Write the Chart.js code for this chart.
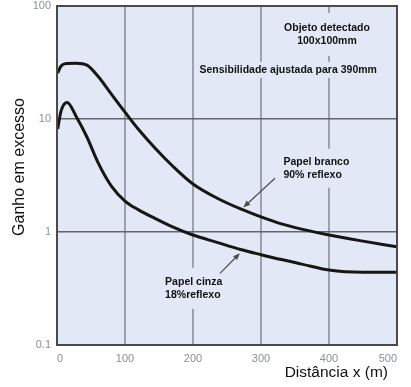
<!DOCTYPE html>
<html>
<head>
<meta charset="utf-8">
<title>Ganho em excesso x distância</title>
<script src="https://cdn.jsdelivr.net/npm/chart.js@4.4.1/dist/chart.umd.min.js"></script>
<style>
  html, body { margin: 0; padding: 0; background: #fff; }
  #wrap { width: 411px; height: 387px; }
</style>
</head>
<body>
<div id="wrap"><canvas id="grafico"></canvas></div>
<script>
// distância (m) e ganho em excesso de cada papel
const distancias  = [1, 6, 15, 28, 44, 60, 80, 100, 120, 144, 170, 200, 235, 270, 300, 330, 360, 400, 450, 500];
const papelBranco = [25.5, 29.5, 31, 31.2, 30, 24.0, 16.6, 11.5, 8.07, 5.54, 3.84, 2.66, 2.0, 1.6, 1.36, 1.18, 1.06, 0.94, 0.83, 0.74];
const papelCinza  = [8.16, 11.8, 14.0, 10.6, 6.93, 4.16, 2.55, 1.88, 1.57, 1.32, 1.11, 0.94, 0.81, 0.70, 0.63, 0.57, 0.52, 0.46, 0.44, 0.44];

const xTicks = [0, 100, 200, 300, 400, 500];
const yTicks = [0.1, 1, 10, 100];
const yTickLabels = ['0.1', '1', '10', '100'];

const tituloX = 'Distância x (m)';
const tituloY = 'Ganho em excesso';

const FONTE = '"Liberation Sans", Arial, sans-serif';
const COR_FUNDO = '#e2e8f5';

// textos dentro do gráfico (posição em unidades dos eixos)
const notas = [
  { linhas: ['Objeto detectado', '100x100mm'], x: 397, y: 64, align: 'center', padY: 10 },
  { linhas: ['Sensibilidade ajustada para 390mm'], x: 340, y: 27.2, align: 'center', padY: 3 },
  { linhas: ['Papel branco', '90% reflexo'], x: 333, y: 4.19, align: 'left', padY: 8 },
  { linhas: ['Papel cinza', '18%reflexo'], x: 159, y: 0.363, align: 'left', padY: 9 }
];
const setas = [
  { de: [320.6, 2.99], para: [274, 1.65] },
  { de: [239.7, 0.431], para: [269, 0.65] }
];

const pontos = vals => distancias.map((d, i) => ({ x: d, y: vals[i] }));

const fundoPlot = {
  id: 'fundoPlot',
  beforeDraw(chart) {
    const { ctx, chartArea: a } = chart;
    ctx.save();
    ctx.fillStyle = COR_FUNDO;
    ctx.fillRect(a.left, a.top, a.width, a.height);
    ctx.restore();
  }
};

const textos = {
  id: 'textos',
  // caixas de texto por cima da grade, por baixo das curvas
  beforeDatasetsDraw(chart) {
    const { ctx, scales: { x, y } } = chart;
    const alt = 13;
    ctx.save();
    ctx.font = 'bold 10.5px ' + FONTE;
    ctx.textBaseline = 'middle';
    notas.forEach(n => {
      const px = x.getPixelForValue(n.x);
      const py = y.getPixelForValue(n.y);
      const larg = Math.max(...n.linhas.map(l => ctx.measureText(l).width));
      const x0 = n.align === 'center' ? px - larg / 2 : px;
      const h = (n.linhas.length - 1) * alt;
      ctx.fillStyle = COR_FUNDO;
      ctx.fillRect(x0 - 4, py - 5 - n.padY, larg + 8, h + 10 + 2 * n.padY);
      ctx.fillStyle = '#111';
      ctx.textAlign = n.align;
      n.linhas.forEach((l, i) => ctx.fillText(l, px, py + i * alt));
    });
    ctx.restore();
  },
  afterDatasetsDraw(chart) {
    const { ctx, chartArea: a, scales: { x, y } } = chart;
    ctx.save();
    // moldura
    ctx.strokeStyle = '#4a4a4a';
    ctx.lineWidth = 2;
    ctx.strokeRect(a.left, a.top, a.width, a.height);

    // setas
    ctx.strokeStyle = '#4d4d4d';
    ctx.fillStyle = '#4d4d4d';
    ctx.lineWidth = 1.2;
    setas.forEach(s => {
      const x1 = x.getPixelForValue(s.de[0]), y1 = y.getPixelForValue(s.de[1]);
      const x2 = x.getPixelForValue(s.para[0]), y2 = y.getPixelForValue(s.para[1]);
      const ang = Math.atan2(y2 - y1, x2 - x1);
      ctx.beginPath();
      ctx.moveTo(x1, y1);
      ctx.lineTo(x2 - 4 * Math.cos(ang), y2 - 4 * Math.sin(ang));
      ctx.stroke();
      ctx.beginPath();
      ctx.moveTo(x2, y2);
      ctx.lineTo(x2 - 7 * Math.cos(ang) + 2.8 * Math.sin(ang), y2 - 7 * Math.sin(ang) - 2.8 * Math.cos(ang));
      ctx.lineTo(x2 - 7 * Math.cos(ang) - 2.8 * Math.sin(ang), y2 - 7 * Math.sin(ang) + 2.8 * Math.cos(ang));
      ctx.closePath();
      ctx.fill();
    });

    // títulos dos eixos
    ctx.fillStyle = '#111';
    ctx.textBaseline = 'middle';
    ctx.font = '15.5px ' + FONTE;
    ctx.textAlign = 'right';
    ctx.fillText(tituloX, 388, 373);
    ctx.font = '16px ' + FONTE;
    ctx.translate(20, 167);
    ctx.rotate(-Math.PI / 2);
    ctx.textAlign = 'center';
    ctx.fillText(tituloY, 0, 0);
    ctx.restore();
  }
};

const linha = {
  borderColor: '#161616',
  borderWidth: 3,
  pointRadius: 0,
  fill: false,
  cubicInterpolationMode: 'monotone'
};

new Chart(document.getElementById('grafico'), {
  type: 'line',
  data: {
    datasets: [
      { label: 'Papel branco 90% reflexo', data: pontos(papelBranco), ...linha },
      { label: 'Papel cinza 18% reflexo', data: pontos(papelCinza), ...linha }
    ]
  },
  options: {
    responsive: true,
    maintainAspectRatio: false,
    animation: false,
    layout: { padding: { top: 6, right: 14, left: 0, bottom: 0 } },
    plugins: { legend: { display: false }, tooltip: { enabled: false } },
    scales: {
      x: {
        type: 'linear',
        min: 0,
        max: 500,
        afterBuildTicks: s => { s.ticks = xTicks.map(v => ({ value: v })); },
        afterFit: s => { s.height = 42; s.paddingLeft = 0; s.paddingRight = 0; },
        grid: { color: '#9ba2ae', lineWidth: 2, drawTicks: false },
        border: { display: false },
        ticks: {
          align: 'inner',
          padding: 7,
          maxRotation: 0,
          autoSkip: false,
          color: '#8a8f99',
          font: { family: FONTE, size: 11 }
        }
      },
      y: {
        type: 'logarithmic',
        min: 0.1,
        max: 100,
        afterBuildTicks: s => { s.ticks = yTicks.map(v => ({ value: v })); },
        afterFit: s => { s.width = 57; s.paddingTop = 0; s.paddingBottom = 0; },
        grid: { color: '#60656d', lineWidth: 1.5, drawTicks: false },
        border: { display: false },
        ticks: {
          align: 'inner',
          padding: 6,
          autoSkip: false,
          color: '#8a8f99',
          font: { family: FONTE, size: 11 },
          callback: v => yTickLabels[yTicks.indexOf(v)]
        }
      }
    }
  },
  plugins: [fundoPlot, textos]
});
</script>
</body>
</html>
